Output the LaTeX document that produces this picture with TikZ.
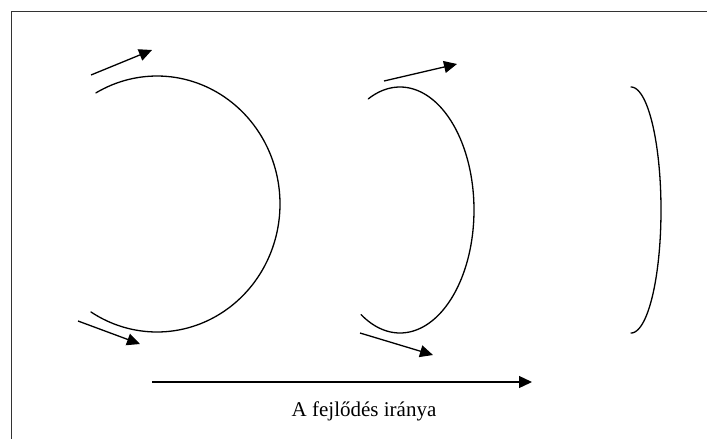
\documentclass[tikz,border=0pt]{standalone}
\usepackage{fontspec}
\setmainfont{Liberation Serif}
\usetikzlibrary{arrows.meta}
\begin{document}
\begin{tikzpicture}[x=1pt,y=-1pt,
  curve/.style={line width=1.3pt, line cap=round},
  arr/.style={line width=1.3pt, -{Triangle[length=13pt,width=12pt]}},
  frame/.style={line width=1.5pt, draw=black!80},
  lbl/.style={font=\fontsize{21}{25}\selectfont, anchor=base, inner sep=0pt}]
\useasboundingbox (0,0) rectangle (707,439);
\draw[frame] (11.5,439) -- (11.5,11.5) -- (707,11.5);
% arcs
\draw[curve] plot[domain=-119.8:122.5, samples=120, smooth] ({157+123*cos(\x)},{204+128*sin(\x)});
\draw[curve] plot[domain=-115.4:121.8, samples=120, smooth] ({400+74*cos(\x)},{210+123*sin(\x)});
\draw[curve] plot[domain=-90:90, samples=120, smooth] ({631+30*cos(\x)},{210+123*sin(\x)});
% arrows
\coordinate (a1s) at (91,75);  \coordinate (a1e) at (152,50);
\coordinate (b1s) at (78,321); \coordinate (b1e) at (140,344);
\coordinate (a2s) at (384,81); \coordinate (a2e) at (457,64);
\coordinate (b2s) at (360,333);\coordinate (b2e) at (433,355);
\coordinate (ms) at (152,382); \coordinate (me) at (532,382);
\draw[arr] (a1s) -- (a1e);
\draw[arr] (b1s) -- (b1e);
\draw[arr] (a2s) -- (a2e);
\draw[arr] (b2s) -- (b2e);
\draw[arr] (ms) -- (me);
\node[lbl] (label) at (364,416) {A fejlődés iránya};
\end{tikzpicture}
\end{document}
